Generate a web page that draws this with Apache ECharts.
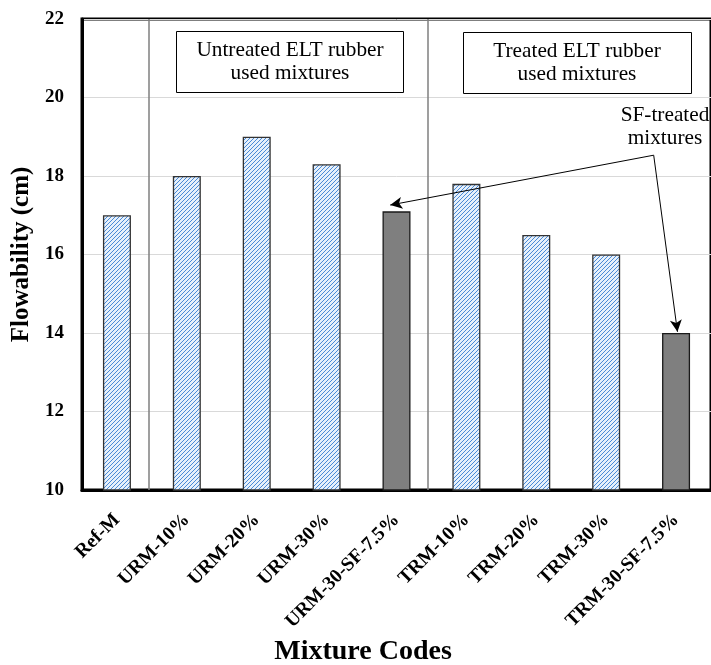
<!DOCTYPE html>
<html><head><meta charset="utf-8">
<script src="https://cdn.jsdelivr.net/npm/echarts@6/dist/echarts.min.js"></script>
<style>html,body{margin:0;padding:0;background:#fff}#c{width:711px;height:665px}</style>
</head><body><div id="c"></div>
<script>
const categories = ['Ref-M','URM-10%','URM-20%','URM-30%','URM-30-SF-7.5%','TRM-10%','TRM-20%','TRM-30%','TRM-30-SF-7.5%'];
const flowability = [17.0, 18.0, 19.0, 18.3, 17.1, 17.8, 16.5, 16.0, 14.0];
const yTicks = [10, 12, 14, 16, 18, 20, 22];
const groupLabels = ['Untreated ELT rubber\nused mixtures', 'Treated ELT rubber\nused mixtures'];
const sfLabel = 'SF-treated\nmixtures';
// separators (category-boundary positions) and arrow annotation points in data space
const separators = [0.45, 4.45];
const arrowVertex = [7.68, 18.53];
const arrowTips = [[3.91, 17.26], [8.02, 14.03]];

const FONT = '"Liberation Serif", "Times New Roman", serif';

// hatch pattern
const pc = document.createElement('canvas');
pc.width = 4; pc.height = 4;
const g = pc.getContext('2d');
g.fillStyle = '#e6f0fb'; g.fillRect(0,0,4,4);
g.strokeStyle = '#4a8ad6'; g.lineWidth = 1;
g.beginPath();
g.moveTo(0,4); g.lineTo(4,0);
g.moveTo(-1,1); g.lineTo(1,-1);
g.moveTo(3,5); g.lineTo(5,3);
g.stroke();

const barData = flowability.map((v, i) => {
  const sf = categories[i].indexOf('SF') >= 0;
  return {
    value: v,
    itemStyle: sf ? { color: '#7f7f7f', borderColor: '#1a1a1a', borderWidth: 1.3 }
                  : { color: { image: pc, repeat: 'repeat' }, borderColor: '#333', borderWidth: 1.3 }
  };
});

const annText = (x, y, text) => ({
  type: 'text', x: x, y: y, z: 11, scaleX: 1.12, scaleY: 1.12,
  style: { text: text, fontFamily: FONT, fontSize: 19, lineHeight: 20.5, fill: '#000', align: 'center', verticalAlign: 'middle' }
});

const option = {
  animation: false,
  backgroundColor: '#fff',
  textStyle: { fontFamily: FONT },
  grid: { left: 82, width: 635, top: 19, bottom: 175, show: true, borderColor: '#000', borderWidth: 3, backgroundColor: 'transparent' },
  xAxis: [{
    type: 'category', data: categories,
    axisLine: { show: true, lineStyle: { color: '#000', width: 3 } },
    axisTick: { show: false },
    axisLabel: { rotate: 45, margin: 27, fontFamily: FONT, fontWeight: 'bold', fontSize: 19.5, color: '#000', interval: 0 }
  }, {
    type: 'value', min: -0.5, max: 8.5, show: false
  }],
  yAxis: {
    type: 'value', min: yTicks[0], max: yTicks[yTicks.length - 1], interval: 2,
    name: 'Flowability (cm)', nameLocation: 'middle', nameGap: 35,
    nameTextStyle: { fontFamily: FONT, fontWeight: 'bold', fontSize: 25, color: '#000' },
    axisLine: { show: true, onZero: false, lineStyle: { color: '#000', width: 3 } },
    axisTick: { show: false },
    axisLabel: { margin: 18, fontFamily: FONT, fontWeight: 'bold', fontSize: 19, color: '#000' },
    splitLine: { lineStyle: { color: '#d9d9d9', width: 1 } }
  },
  series: [{
    type: 'bar', data: barData, barWidth: 28, xAxisIndex: 0, z: 3
  }, {
    type: 'scatter', xAxisIndex: 1, data: [], silent: true,
    markLine: {
      silent: true, symbol: ['none', 'none'], label: { show: false },
      lineStyle: { color: '#7f7f7f', width: 1.5, type: 'solid' },
      data: separators.map(s => [{ coord: [s, yTicks[0]] }, { coord: [s, yTicks[yTicks.length - 1]] }])
    }
  }, {
    type: 'scatter', xAxisIndex: 1, data: [], silent: true,
    markLine: {
      silent: true, symbol: ['none', 'arrow'], symbolSize: [9, 12], label: { show: false },
      lineStyle: { color: '#000', width: 1, type: 'solid' },
      data: arrowTips.map(t => [{ coord: arrowVertex }, { coord: t }])
    }
  }],
  graphic: [
    { type: 'rect', shape: { x: 176.5, y: 31.5, width: 227, height: 61 }, style: { fill: '#fff', stroke: '#000', lineWidth: 1 }, z: 10 },
    annText(290, 62, groupLabels[0]),
    { type: 'rect', shape: { x: 463.5, y: 32.5, width: 228, height: 61 }, style: { fill: '#fff', stroke: '#000', lineWidth: 1 }, z: 10 },
    annText(577, 63, groupLabels[1]),
    annText(665, 127, sfLabel),
    { type: 'text', x: 363, y: 652, z: 11, style: { text: 'Mixture Codes', fontFamily: FONT, fontWeight: 'bold', fontSize: 28, fill: '#000', align: 'center', verticalAlign: 'middle' } }
  ]
};

const chart = echarts.init(document.getElementById('c'), null, { renderer: 'canvas' });
chart.setOption(option);
</script>
</body></html>
